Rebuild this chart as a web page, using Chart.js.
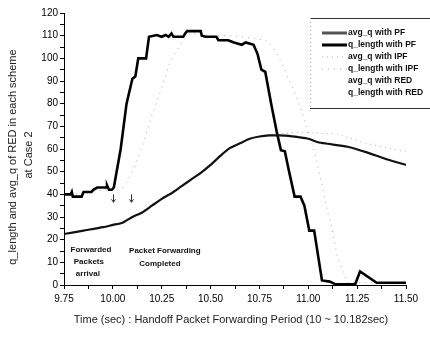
<!DOCTYPE html>
<html>
<head>
<meta charset="utf-8">
<script src="https://cdn.jsdelivr.net/npm/chart.js@4.4.1/dist/chart.umd.min.js"></script>
<style>
  html, body { margin: 0; padding: 0; background: #fff; }
</style>
</head>
<body>
<canvas id="queue-chart" width="430" height="338"></canvas>
<script>
// series names, in legend order
var seriesNames = ["avg_q with PF", "q_length with PF", "avg_q with IPF",
                   "q_length with IPF", "avg_q with RED", "q_length with RED"];

// q_length with PF
var pfQlenTime = [9.75, 9.785, 9.79, 9.795, 9.84, 9.85, 9.89, 9.90, 9.92, 9.965, 9.97, 9.98, 9.995, 10.005,
                  10.04, 10.07, 10.10, 10.115, 10.13, 10.17, 10.185, 10.225, 10.25, 10.27, 10.285, 10.30,
                  10.31, 10.36, 10.37, 10.38, 10.45, 10.455, 10.475, 10.53, 10.54, 10.59, 10.62, 10.66,
                  10.68, 10.72, 10.74, 10.76, 10.78, 10.81, 10.84, 10.86, 10.88, 10.90, 10.93, 10.96,
                  10.98, 11.005, 11.03, 11.07, 11.11, 11.14, 11.24, 11.265, 11.35, 11.50];
var pfQlenVal = [40, 40, 41, 39, 39, 41, 41, 42, 43, 43, 44, 42, 42, 43,
                 60, 80, 91, 92, 100, 100, 109.5, 110.3, 109.5, 110.3, 109.5, 111,
                 109.5, 109.5, 111, 112, 112, 110, 109.5, 109.5, 108, 108, 107, 106,
                 107, 106, 102, 95, 94, 80, 67, 59.5, 59, 50.7, 39, 39,
                 35, 24, 24, 2, 1.5, 0.3, 0.3, 6, 1, 1];

// avg_q with PF
var pfAvgTime = [9.75, 9.85, 9.95, 10.0, 10.05, 10.1, 10.15, 10.2, 10.25, 10.3, 10.35, 10.4, 10.45, 10.5,
                 10.55, 10.6, 10.65, 10.7, 10.75, 10.8, 10.85, 10.9, 10.95, 11.0, 11.05, 11.1, 11.2,
                 11.3, 11.4, 11.5];
var pfAvgVal = [22.5, 24, 25.5, 26.5, 27.5, 30, 32, 35, 38, 40.5, 43.5, 46.5, 49.5, 53,
                57, 60.5, 62.5, 64.5, 65.5, 66, 66, 65.8, 65.2, 64.5, 63, 62.3, 61,
                58.5, 55.5, 53];

// q_length with IPF
var ipfQlenTime = [9.75, 9.8, 9.85, 9.9, 9.95, 10.0, 10.04, 10.07, 10.11, 10.15, 10.2, 10.25, 10.29, 10.33,
                   10.36, 10.4, 10.5, 10.6, 10.7, 10.78, 10.81, 10.865, 10.89, 10.93, 10.97, 10.99, 11.03,
                   11.045, 11.1, 11.12, 11.15, 11.2, 11.3, 11.5];
var ipfQlenVal = [40, 40, 41, 41, 42, 42, 42, 45, 52, 61, 75, 87, 98, 104,
                  108, 111, 110, 110, 109, 108, 106, 98, 92.6, 85, 76, 70, 59.5,
                  54, 32, 25, 12, 1, 1, 1];

// avg_q with IPF
var ipfAvgTime = [9.75, 10.0, 10.1, 10.2, 10.3, 10.4, 10.5, 10.6, 10.7, 10.8, 10.9, 11.0, 11.05, 11.15,
                  11.24, 11.3, 11.4, 11.5];
var ipfAvgVal = [22.5, 26.5, 30, 35, 40.5, 46.5, 53, 60.5, 64.5, 66.3, 67, 67.2, 67, 66.5,
                 64, 62.5, 60.5, 59];

// RED runs are listed in the legend only
var redAvgTime = [], redAvgVal = [];
var redQlenTime = [], redQlenVal = [];

function pts(t, v) {
  return t.map(function (x, i) { return { x: x, y: v[i] }; });
}

var FONT = "'Liberation Sans', Arial, sans-serif";

// legend box in the upper right corner
var legendBox = {
  id: 'legendBox',
  afterDraw: function (chart) {
    var ctx = chart.ctx;
    var left = 310, top = 18, bottom = 108, right = chart.width;
    ctx.save();
    ctx.strokeStyle = '#333';
    ctx.lineWidth = 1;
    ctx.beginPath();
    ctx.moveTo(left, top + 0.5); ctx.lineTo(right, top + 0.5);
    ctx.moveTo(left, bottom + 0.5); ctx.lineTo(right, bottom + 0.5);
    ctx.stroke();
    ctx.strokeStyle = '#aaa';
    ctx.setLineDash([1, 3]);
    ctx.beginPath();
    ctx.moveTo(left + 0.5, top); ctx.lineTo(left + 0.5, bottom);
    ctx.stroke();

    chart.data.datasets.forEach(function (ds, i) {
      var yy = 33 + i * 12;
      if (ds.borderWidth > 0) {
        ctx.strokeStyle = ds.legendColor || ds.borderColor;
        ctx.lineWidth = ds.legendWidth || ds.borderWidth;
        ctx.setLineDash(ds.borderDash || []);
        ctx.beginPath();
        ctx.moveTo(322, yy); ctx.lineTo(347, yy);
        ctx.stroke();
      }
      ctx.setLineDash([]);
      ctx.fillStyle = '#111';
      ctx.font = 'bold 8.5px ' + FONT;
      ctx.textBaseline = 'middle';
      ctx.textAlign = 'left';
      ctx.fillText(ds.label, 348, yy);
    });
    ctx.restore();
  }
};

// axis titles and the notes below the curves
var chartNotes = {
  id: 'chartNotes',
  afterDraw: function (chart) {
    var ctx = chart.ctx, x = chart.scales.x, y = chart.scales.y;
    ctx.save();
    ctx.fillStyle = '#222';
    ctx.textAlign = 'center';
    ctx.textBaseline = 'middle';

    ctx.font = '11px ' + FONT;
    ctx.fillText('Time (sec) : Handoff Packet Forwarding Period (10 ~ 10.182sec)', 231, 320);

    ctx.save();
    ctx.translate(13, 157);
    ctx.rotate(-Math.PI / 2);
    ctx.fillText('q_length and avg_q of RED in each scheme', 0, 0);
    ctx.restore();
    ctx.save();
    ctx.translate(29, 155);
    ctx.rotate(-Math.PI / 2);
    ctx.fillText('at Case 2', 0, 0);
    ctx.restore();

    ctx.font = 'bold 8px ' + FONT;
    ctx.fillStyle = '#111';
    ctx.fillText('Forwarded', x.getPixelForValue(9.888), y.getPixelForValue(15.4));
    ctx.fillText('Packets', x.getPixelForValue(9.877), y.getPixelForValue(10.1));
    ctx.fillText('arrival', x.getPixelForValue(9.872), y.getPixelForValue(4.8));
    ctx.fillText('Packet Forwarding', x.getPixelForValue(10.266), y.getPixelForValue(15));
    ctx.fillText('Completed', x.getPixelForValue(10.241), y.getPixelForValue(9.3));

    // small arrows at the start and end of forwarding
    ctx.strokeStyle = '#333';
    ctx.lineWidth = 1;
    [10.0, 10.093].forEach(function (t) {
      var px = Math.round(x.getPixelForValue(t)) + 0.5;
      var top = y.getPixelForValue(40), bot = y.getPixelForValue(36.5);
      ctx.beginPath();
      ctx.moveTo(px, top); ctx.lineTo(px, bot);
      ctx.moveTo(px - 2, bot - 3); ctx.lineTo(px, bot); ctx.lineTo(px + 2, bot - 3);
      ctx.stroke();
    });
    ctx.restore();
  }
};

new Chart(document.getElementById('queue-chart'), {
  type: 'line',
  data: {
    datasets: [{
      label: seriesNames[0],
      data: pts(pfAvgTime, pfAvgVal),
      borderColor: '#111',
      legendColor: '#555',
      borderWidth: 2.2,
      legendWidth: 3,
      tension: 0.2
    }, {
      label: seriesNames[1],
      data: pts(pfQlenTime, pfQlenVal),
      borderColor: '#000',
      borderWidth: 2.6,
      legendWidth: 3
    }, {
      label: seriesNames[2],
      data: pts(ipfAvgTime, ipfAvgVal),
      borderColor: '#aaa',
      borderWidth: 1,
      borderDash: [1, 4],
      tension: 0.2
    }, {
      label: seriesNames[3],
      data: pts(ipfQlenTime, ipfQlenVal),
      borderColor: '#aaa',
      borderWidth: 1,
      borderDash: [1, 5]
    }, {
      label: seriesNames[4],
      data: pts(redAvgTime, redAvgVal),
      borderColor: 'rgba(0,0,0,0)',
      borderWidth: 0
    }, {
      label: seriesNames[5],
      data: pts(redQlenTime, redQlenVal),
      borderColor: 'rgba(0,0,0,0)',
      borderWidth: 0
    }]
  },
  options: {
    responsive: false,
    animation: false,
    devicePixelRatio: 1,
    layout: { padding: { left: 0, right: 24, top: 13, bottom: 0 } },
    elements: {
      point: { radius: 0 },
      line: { borderJoinStyle: 'miter', borderCapStyle: 'butt' }
    },
    plugins: {
      legend: { display: false },
      tooltip: { enabled: false }
    },
    scales: {
      x: {
        type: 'linear',
        min: 9.75,
        max: 11.5,
        afterFit: function (scale) { scale.height = 53; },
        border: { display: true, color: '#000', width: 1 },
        grid: { drawOnChartArea: false, drawTicks: true, tickLength: 4, color: '#000' },
        ticks: {
          stepSize: 0.125,
          autoSkip: false,
          maxRotation: 0,
          padding: 4,
          color: '#000',
          font: { family: FONT, size: 10 },
          callback: function (v) {
            return Math.abs(v * 4 - Math.round(v * 4)) < 1e-6 ? v.toFixed(2) : '';
          }
        }
      },
      y: {
        min: 0,
        max: 120,
        afterFit: function (scale) { scale.width = 64; },
        border: { display: true, color: '#000', width: 1 },
        grid: { drawOnChartArea: false, drawTicks: true, tickLength: 4, color: '#000' },
        ticks: {
          stepSize: 5,
          autoSkip: false,
          padding: 2,
          color: '#000',
          font: { family: FONT, size: 10 },
          callback: function (v) { return v % 10 === 0 ? v : ''; }
        }
      }
    }
  },
  plugins: [legendBox, chartNotes]
});
</script>
</body>
</html>
